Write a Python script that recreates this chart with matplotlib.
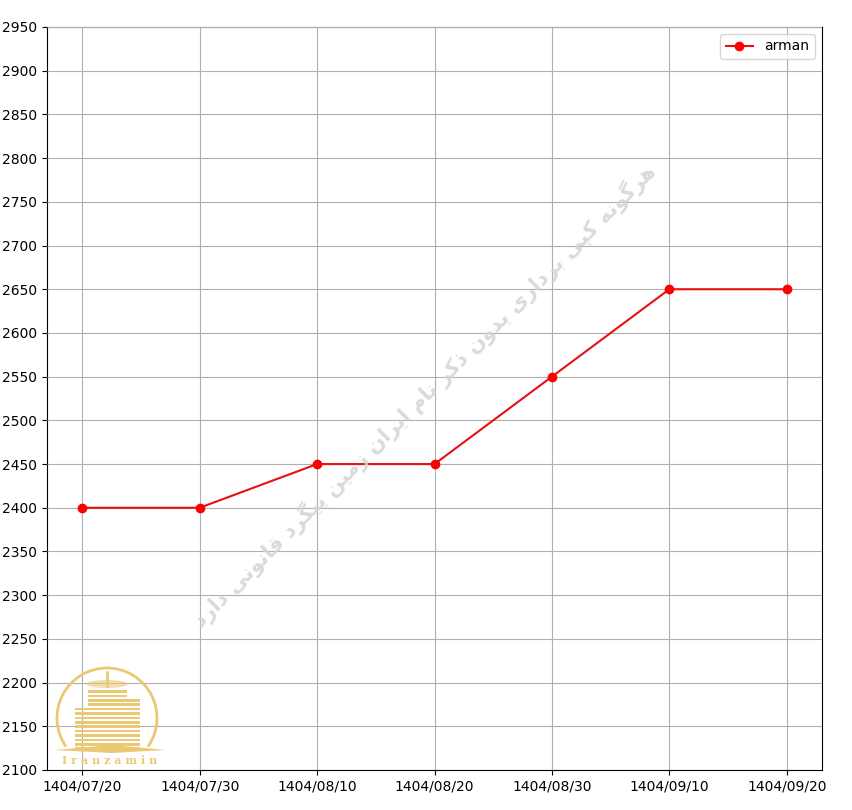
import matplotlib
matplotlib.use("Agg")
import matplotlib.pyplot as plt
from matplotlib.patches import Arc, Rectangle, Ellipse, Polygon

dates = ["1404/07/20", "1404/07/30", "1404/08/10", "1404/08/20",
         "1404/08/30", "1404/09/10", "1404/09/20"]
arman = [2400, 2400, 2450, 2450, 2550, 2650, 2650]
yticks = list(range(2100, 2951, 50))
watermark = "هرگونه کپی برداری بدون ذکر نام ایران زمین پیگرد قانونی دارد"

# --- simple Persian shaping (presentation forms) ---
FORMS = {  # iso, fin, init, med
    'ا': ('\uFE8D', '\uFE8E', None, None),
    'ب': ('\uFE8F', '\uFE90', '\uFE91', '\uFE92'),
    'پ': ('\uFB56', '\uFB57', '\uFB58', '\uFB59'),
    'د': ('\uFEA9', '\uFEAA', None, None),
    'ذ': ('\uFEAB', '\uFEAC', None, None),
    'ر': ('\uFEAD', '\uFEAE', None, None),
    'ز': ('\uFEAF', '\uFEB0', None, None),
    'ق': ('\uFED5', '\uFED6', '\uFED7', '\uFED8'),
    'ک': ('\uFB8E', '\uFB8F', '\uFB90', '\uFB91'),
    'گ': ('\uFB92', '\uFB93', '\uFB94', '\uFB95'),
    'م': ('\uFEE1', '\uFEE2', '\uFEE3', '\uFEE4'),
    'ن': ('\uFEE5', '\uFEE6', '\uFEE7', '\uFEE8'),
    'ه': ('\uFEE9', '\uFEEA', '\uFEEB', '\uFEEC'),
    'و': ('\uFEED', '\uFEEE', None, None),
    'ی': ('\uFBFC', '\uFBFD', '\uFBFE', '\uFBFF'),
}


def shape(text):
    out = []
    n = len(text)
    for i, ch in enumerate(text):
        if ch not in FORMS:
            out.append(ch)
            continue
        f = FORMS[ch]
        prev = text[i - 1] if i > 0 else ' '
        nxt = text[i + 1] if i < n - 1 else ' '
        jp = prev in FORMS and FORMS[prev][2] is not None
        jn = f[2] is not None and nxt in FORMS
        if jp and jn:
            out.append(f[3])
        elif jp:
            out.append(f[1])
        elif jn:
            out.append(f[2])
        else:
            out.append(f[0])
    return ''.join(out)[::-1]


fig = plt.figure(figsize=(8.53, 8.10), dpi=100)
ax = fig.add_axes([47 / 853, 40 / 810, 775 / 853, 743 / 810])
x = list(range(len(dates)))
ax.plot(x, arman, color="#e81010", marker="o", markersize=6,
        markerfacecolor="red", markeredgecolor="red", linewidth=1.5,
        label="arman", zorder=3)
ax.set_xticks(x)
ax.set_xticklabels(dates)
ax.set_yticks(yticks)
ax.set_xlim(-0.3, 6.3)
ax.set_ylim(2100, 2950)
ax.grid(True, color="#b0b0b0", linewidth=0.8)
ax.set_axisbelow(False)
ax.legend(loc="upper right", fontsize=10)

# watermark
fig.text(0.498, 0.512, shape(watermark), rotation=45, ha="center",
         va="center", fontsize=15, fontweight="bold", color="#d4d4d4",
         alpha=0.85, family=["DejaVu Sans"], zorder=5)

# logo
gold = "#ebc873"
lax = fig.add_axes([52 / 853, 40 / 810, 118 / 853, 110 / 810])
lax.set_xlim(0, 118)
lax.set_ylim(0, 110)
lax.axis("off")
lax.patch.set_alpha(0)
lax.add_patch(Arc((55, 52), 100, 100, theta1=-35, theta2=215,
                  color=gold, linewidth=2))
# buildings: stacked bands
for (cx, w, y0, y1) in [(55, 39, 20, 80), (30, 15, 20, 60), (80, 15, 20, 70)]:
    yy = y0
    while yy < y1:
        lax.add_patch(Rectangle((cx - w / 2, yy), w, 2.6, color=gold, lw=0))
        yy += 4.4
lax.add_patch(Polygon([[2, 20], [60, 25], [114, 20], [60, 17]],
                      closed=True, color=gold, lw=0))
lax.add_patch(Ellipse((55, 86), 42, 8, color=gold, alpha=0.6, lw=0))
lax.plot([55, 55], [84, 98], color=gold, lw=2)
lax.text(58, 9, "I r a n z a m i n", ha="center", va="center",
         fontsize=8, fontweight="bold", color=gold, family="DejaVu Serif")

fig.savefig("out.png", dpi=100)
